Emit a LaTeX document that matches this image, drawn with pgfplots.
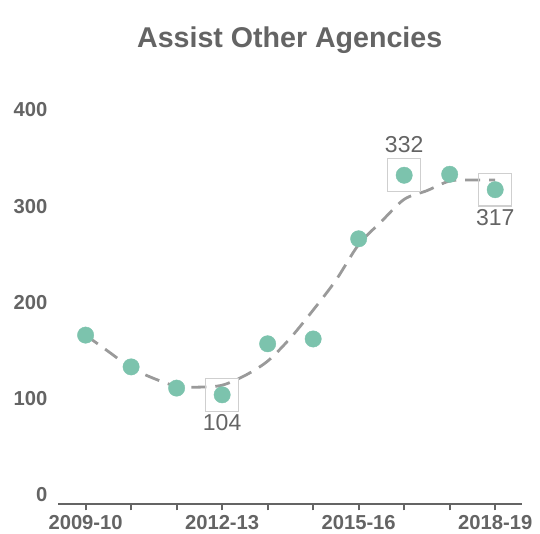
\documentclass[border=0pt]{standalone}
\usepackage{fontspec}
\setmainfont{Liberation Sans}
\usepackage{pgfplots}
\pgfplotsset{compat=1.18}
\definecolor{txt}{HTML}{646464}
\definecolor{pt}{HTML}{7CC3AD}
\definecolor{trend}{HTML}{9A9A9A}
\definecolor{boxc}{HTML}{CFCFCF}
\begin{document}
\begin{tikzpicture}[x=1bp,y=1bp]
\useasboundingbox (0,0) rectangle (540,534);
\node[anchor=base, text=txt, font=\bfseries\fontsize{28.6bp}{33bp}\selectfont, inner sep=0pt] at (289.7,486.3) {Assist Other Agencies};
\begin{axis}[at={(58.3bp,29.7bp)}, anchor=south west, scale only axis,
  width=464bp, height=413.8bp,
  xmin=-0.6, xmax=9.596, ymin=-9.66, ymax=420,
  axis x line*=bottom, axis y line*=left,
  y axis line style={draw=none},
  x axis line style={-, draw=txt, line width=2bp},
  xtick={0,...,9}, xticklabels={2009-10,,,2012-13,,,2015-16,,,2018-19},
  ytick={0,100,...,400},
  ytick style={draw=none},
  xtick style={draw=txt, line width=2bp},
  tick align=outside, major tick length=6bp,
  /pgf/number format/assume math mode=true,
  tick label style={text=txt, font=\bfseries\fontsize{20.2bp}{24bp}\selectfont},
  xticklabel style={yshift=-1.5bp},
  yticklabel style={xshift=-1.5bp},
  clip=false,
]
\addplot[trend, line width=2.8bp, dash pattern=on 15bp off 9bp, smooth, no markers]
  coordinates {(0,166) (0.5,149) (1,132) (1.5,121) (2,113) (2.5,112) (3,114) (3.5,124) (4,139) (4.5,163) (5,192) (5.5,223) (6,260) (6.5,284) (7,307) (7.5,316) (8,326) (8.5,327) (9,327)};
\addplot[only marks, mark=square, mark size=16.35bp, mark options={draw=boxc, line width=1.2bp},
  nodes near coords={104},
  every node near coord/.append style={anchor=center, yshift=-27.4bp, text=txt, font=\fontsize{23bp}{27bp}\selectfont}]
  coordinates {(3,104)};
\addplot[only marks, mark=square, mark size=16.35bp, mark options={draw=boxc, line width=1.2bp},
  nodes near coords={332},
  every node near coord/.append style={anchor=center, yshift=31bp, text=txt, font=\fontsize{23bp}{27bp}\selectfont}]
  coordinates {(7,332)};
\addplot[only marks, mark=square, mark size=16.35bp, mark options={draw=boxc, line width=1.2bp},
  nodes near coords={317},
  every node near coord/.append style={anchor=center, yshift=-27.4bp, text=txt, font=\fontsize{23bp}{27bp}\selectfont}]
  coordinates {(9,317)};
\addplot[only marks, mark=*, mark size=8.2bp, mark options={fill=pt, draw=pt}]
  coordinates {(0,166) (1,133) (2,111) (3,104) (4,157) (5,162) (6,266) (7,332) (8,333) (9,317)};
\end{axis}
\end{tikzpicture}
\end{document}
